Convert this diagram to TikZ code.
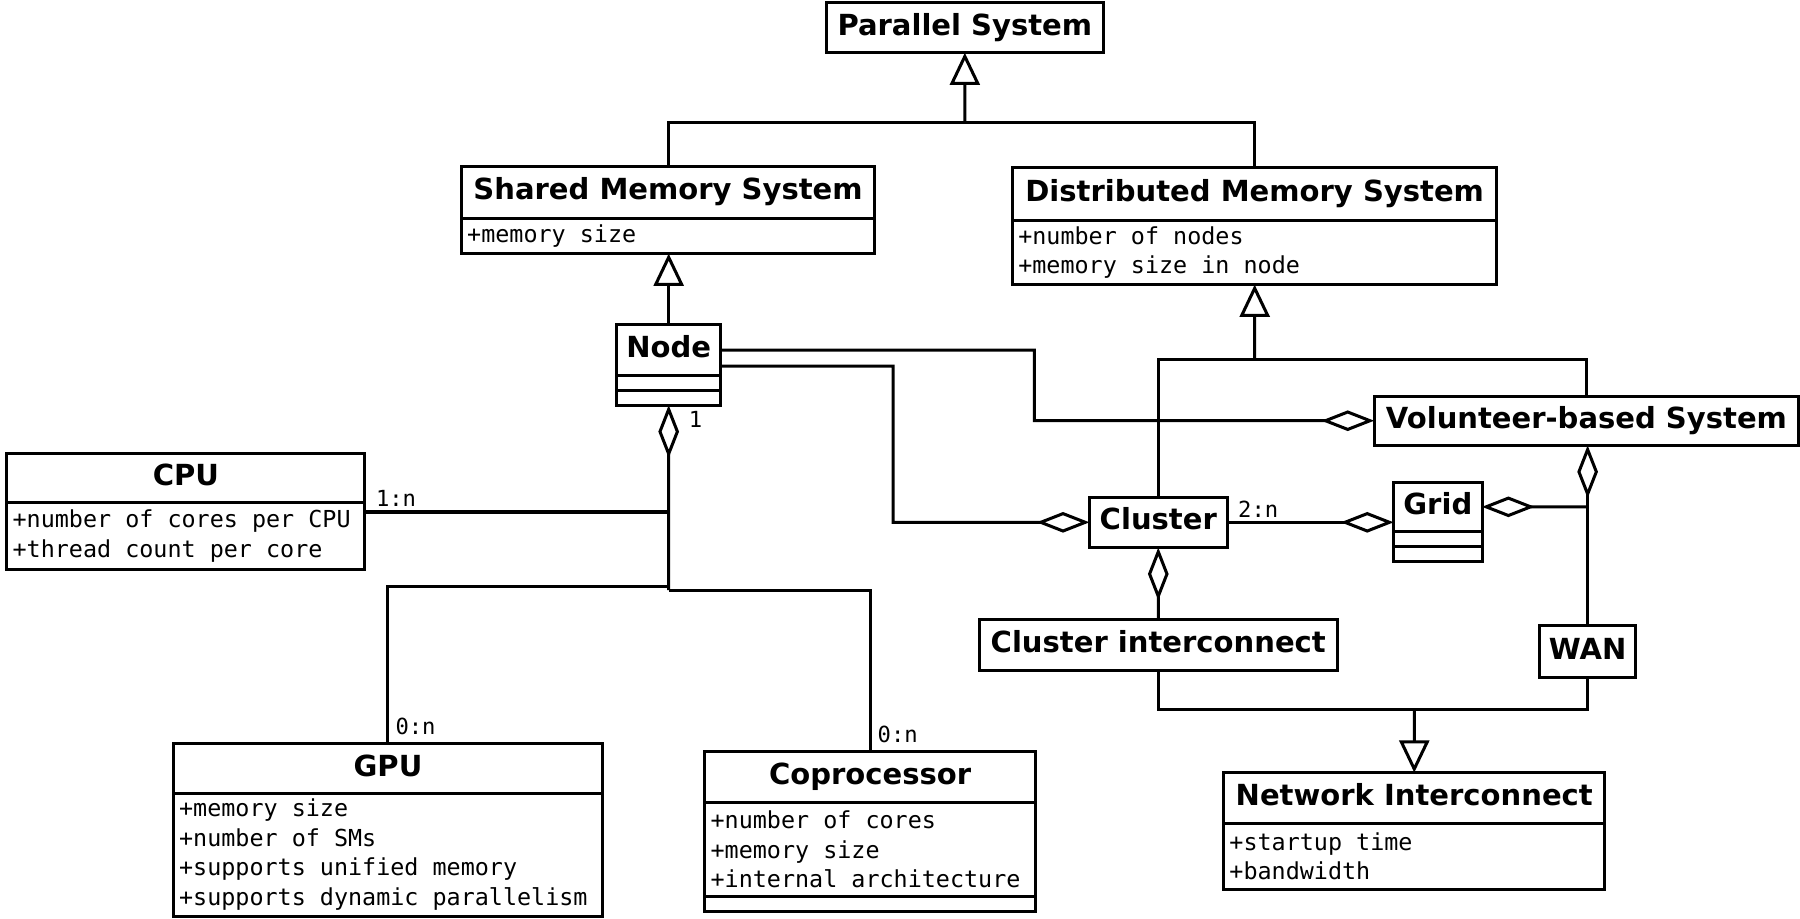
\documentclass[tikz,border=0pt]{standalone}
\usepackage{fontspec}
\setmainfont{DejaVu Sans}
\newfontfamily\monofont{DejaVu Sans Mono}
\newcommand\attrfont{\fontsize{11.6}{14.6}\selectfont\monofont}
\newcommand\attrspace{\spaceskip 0.602em\relax}
\usetikzlibrary{positioning,arrows.meta}

\begin{document}
\begin{tikzpicture}
			[x=0.02cm,y=-0.02cm,line width=1.5pt,
			umlbox/.style={draw,rectangle,inner sep=0pt,outer sep=0pt},
			cls/.style={umlbox,anchor=north west,font=\fontsize{14.4}{16}\selectfont\bfseries,text height=10.5pt,text depth=3pt},
			attr/.style={umlbox,font=\attrfont,align=left,execute at begin node=\attrspace,inner xsep=0.1cm},
			mult/.style={font=\fontsize{11}{13}\selectfont\monofont,inner sep=0pt},
			gen/.style={-{Triangle[open,length=0.56cm,width=0.52cm]}},
			agg/.style={-{Diamond[open,length=0.92cm,width=0.36cm]}},
			aggs/.style={{Diamond[open,length=0.92cm,width=0.36cm]}-}]
			\useasboundingbox (0,0) rectangle (1568,800);
			
			\node[cls,minimum width=4.82cm,minimum height=0.88cm] (psT) at (720,2) {Parallel System};
			
			\node[cls,minimum width=7.2cm,minimum height=0.9cm] (smsT) at (402,145) {Shared Memory System};
			\node[attr,below=0pt of smsT,text width=7.0cm,minimum height=0.62cm] (smsA) {+memory size};
			
			\node[cls,minimum width=8.44cm,minimum height=0.92cm] (dmsT) at (882,146) {Distributed Memory System};
			\node[attr,below=0pt of dmsT,text width=8.24cm,minimum height=1.12cm] (dmsA) {+number of nodes\\+memory size in node};
			
			\node[cls,minimum width=1.82cm,minimum height=0.88cm] (nodeT) at (537,283) {Node};
			\node[umlbox,below=0pt of nodeT,minimum width=1.82cm,minimum height=0.26cm] (nodeE1) {};
			\node[umlbox,below=0pt of nodeE1,minimum width=1.82cm,minimum height=0.26cm] (nodeE2) {};
			
			\node[cls,minimum width=6.24cm,minimum height=0.86cm] (cpuT) at (6,395) {CPU};
			\node[attr,below=0pt of cpuT,text width=6.04cm,minimum height=1.16cm] (cpuA) {+number of cores per CPU\\+thread count per core};
			
			\node[cls,minimum width=7.48cm,minimum height=0.86cm] (gpuT) at (151,648) {GPU};
			\node[attr,below=0pt of gpuT,text width=7.28cm,minimum height=2.14cm] (gpuA) {+memory size\\+number of SMs\\+supports unified memory\\+supports dynamic parallelism};
			
			\node[cls,minimum width=5.76cm,minimum height=0.88cm] (copT) at (614,655) {Coprocessor};
			\node[attr,below=0pt of copT,text width=5.56cm,minimum height=1.64cm] (copA) {+number of cores\\+memory size\\+internal architecture};
			\node[umlbox,below=0pt of copA,minimum width=5.76cm,minimum height=0.26cm] (copE) {};
			
			\node[cls,minimum width=7.4cm,minimum height=0.86cm] (vol) at (1197,345) {Volunteer-based System};
			\node[cls,minimum width=2.4cm,minimum height=0.88cm] (cluT) at (949,433) {Cluster};
			
			\node[cls,minimum width=1.54cm,minimum height=0.86cm] (gridT) at (1214,420) {Grid};
			\node[umlbox,below=0pt of gridT,minimum width=1.54cm,minimum height=0.26cm] (gridE1) {};
			\node[umlbox,below=0pt of gridE1,minimum width=1.54cm,minimum height=0.26cm] (gridE2) {};
			
			\node[cls,minimum width=6.24cm,minimum height=0.88cm] (ci) at (853,540) {Cluster interconnect};
			\node[cls,minimum width=1.68cm,minimum height=0.9cm] (wan) at (1341,545) {WAN};
			
			\node[cls,minimum width=6.64cm,minimum height=0.88cm] (niT) at (1066,673) {Network Interconnect};
			\node[attr,below=0pt of niT,text width=6.44cm,minimum height=1.16cm] (niA) {+startup time\\+bandwidth};
			
			\coordinate (psJ) at (840.5,107);
			\coordinate (dmsJ) at (1093,313);
			\coordinate (niJ) at (1232,618);
			\coordinate (nodeJ) at (582.5,511);
			\coordinate (nodeK) at (582.5,514);
			\coordinate (wanJ) at (1383,441.5);
			
			\draw (smsT.north) |- (psJ) -| (dmsT.north);
			\draw[gen] (psJ) -- (psT.south);
			\draw[gen] (nodeT.north) -- (nodeT.north |- smsA.south);
			\draw (cluT.north) |- (dmsJ) -| (vol.north);
			\draw[gen] (dmsJ) -- (dmsA.south);
			\draw (ci.south) |- (niJ) -| (wan.south);
			\draw[gen] (niJ) -- (niT.north);
			
			\draw[agg] (nodeT.east) -| (901,366.5) -- (vol.west);
			\draw[agg] (nodeT.east |- 0,319) -| (778,455) -- (cluT.west);
			\draw[agg] (cluT.east) -- (gridT.west |- cluT.east);
			\draw[agg] (ci.north) -- (cluT.south);
			\draw[agg] (wan.north) -- (wan.north |- vol.south);
			\draw[agg] (wanJ) -- (gridT.east);
			
			\draw[aggs] (nodeE2.south) -- (nodeK);
			\draw (cpuA.east |- 0,446) -- (nodeJ |- 0,446);
			\draw (nodeJ) -| (gpuT.north);
			\draw (nodeK) -| (copT.north);
			
			\node[mult] (mNode) at (606,365) {1};
			\node[mult] (mCpu) at (345,434) {1:n};
			\node[mult] (mGpu) at (362,633) {0:n};
			\node[mult] (mCop) at (782,640) {0:n};
			\node[mult] (mGrid) at (1096,444) {2:n};
			\end{tikzpicture}
\end{document}
